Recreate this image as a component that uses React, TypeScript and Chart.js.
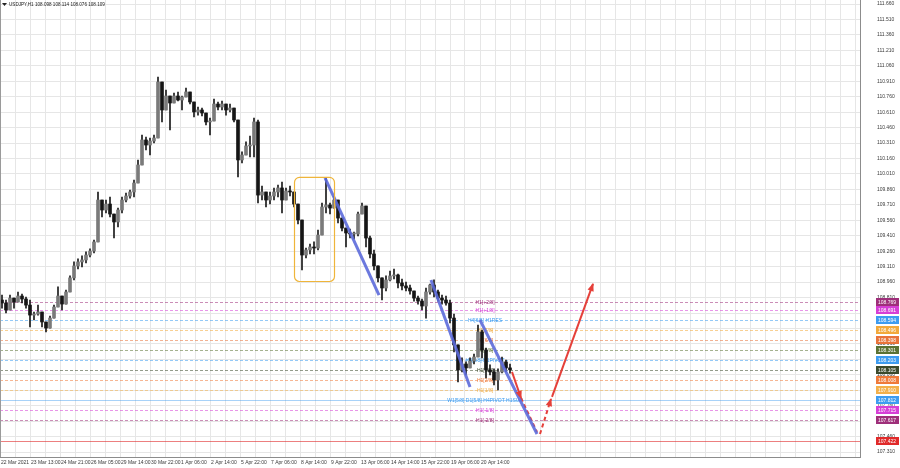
import React, { useEffect, useRef } from "react";
import { Chart, registerables } from "chart.js";

Chart.register(...registerables);

// ---------------- data ----------------
const TITLE_SYMBOL = "USDJPY,H1";
const TITLE_OHLC = ["108.098", "108.114", "108.076", "108.109"];

const BARS_PER_CANDLE = 4; // x unit = one hourly bar
const FIRST_OPEN = 108.786;

const highs = [
  108.834, 108.786, 108.834, 108.805, 108.864, 108.844, 108.815, 108.786, 108.670, 108.737,
  108.631, 108.573, 108.631, 108.737, 108.913, 108.805, 108.883, 109.020, 109.156, 109.185,
  109.214, 109.253, 109.282, 109.369, 109.835, 109.718, 109.757, 109.786, 109.592, 109.679,
  109.786, 109.825, 109.854, 109.951, 110.146, 110.388, 110.369, 110.359, 110.388, 110.951,
  110.854, 110.825, 110.728, 110.796, 110.806, 110.767, 110.844, 110.786, 110.679, 110.660,
  110.650, 110.592, 110.553, 110.738, 110.709, 110.718, 110.689, 110.689, 110.612, 110.408,
  110.224, 110.321, 110.379, 110.553, 110.534, 109.893, 109.835, 109.835, 109.874, 109.903,
  109.932, 109.874, 109.893, 109.835, 109.718, 109.544, 109.291, 109.330, 109.350, 109.466,
  109.728, 109.971, 109.728, 109.796, 109.757, 109.582, 109.485, 109.476, 109.446, 109.640,
  109.728, 109.699, 109.408, 109.272, 109.117, 108.971, 109.020, 109.068, 109.087, 109.039,
  108.990, 108.961, 108.932, 108.874, 108.825, 108.796, 108.903, 108.942, 108.981, 108.883,
  108.834, 108.825, 108.786, 108.650, 108.350, 108.224, 108.185, 108.224, 108.262, 108.543,
  108.495, 108.320, 108.156, 108.117, 108.117, 108.233, 108.204, 108.165,
];

const lows = [
  108.708, 108.660, 108.737, 108.708, 108.776, 108.757, 108.708, 108.524, 108.592, 108.640,
  108.524, 108.476, 108.514, 108.650, 108.776, 108.689, 108.776, 108.883, 108.981, 109.087,
  109.107, 109.146, 109.204, 109.243, 109.369, 109.592, 109.631, 109.592, 109.388, 109.495,
  109.631, 109.738, 109.776, 109.786, 109.932, 110.146, 110.243, 110.194, 110.311, 110.631,
  110.515, 110.631, 110.437, 110.699, 110.718, 110.631, 110.757, 110.689, 110.563, 110.582,
  110.573, 110.485, 110.388, 110.650, 110.631, 110.631, 110.582, 110.612, 110.515, 109.981,
  110.117, 110.194, 110.175, 110.175, 109.728, 109.757, 109.689, 109.718, 109.757, 109.786,
  109.631, 109.776, 109.796, 109.689, 109.524, 109.078, 109.194, 109.233, 109.233, 109.272,
  109.514, 109.631, 109.621, 109.689, 109.534, 109.456, 109.301, 109.388, 109.379, 109.408,
  109.621, 109.301, 109.194, 109.078, 108.961, 108.786, 108.874, 108.971, 108.990, 108.903,
  108.883, 108.874, 108.844, 108.776, 108.747, 108.689, 108.611, 108.844, 108.815, 108.776,
  108.747, 108.737, 108.563, 108.282, 107.990, 108.088, 108.058, 108.127, 108.165, 108.350,
  108.224, 108.029, 108.058, 107.961, 107.913, 108.078, 108.088, 108.076,
];

const closes = [
  108.757, 108.689, 108.805, 108.767, 108.825, 108.796, 108.737, 108.640, 108.650, 108.670,
  108.573, 108.514, 108.611, 108.718, 108.825, 108.747, 108.864, 109.001, 109.117, 109.156,
  109.175, 109.223, 109.262, 109.350, 109.757, 109.660, 109.718, 109.621, 109.544, 109.660,
  109.757, 109.796, 109.835, 109.922, 110.097, 110.340, 110.291, 110.330, 110.359, 110.903,
  110.631, 110.767, 110.699, 110.767, 110.728, 110.757, 110.806, 110.709, 110.612, 110.631,
  110.602, 110.515, 110.524, 110.689, 110.660, 110.689, 110.631, 110.650, 110.534, 110.146,
  110.194, 110.282, 110.291, 110.515, 109.805, 109.835, 109.757, 109.796, 109.835, 109.874,
  109.757, 109.845, 109.835, 109.718, 109.563, 109.223, 109.272, 109.301, 109.291, 109.417,
  109.689, 109.709, 109.679, 109.757, 109.582, 109.485, 109.437, 109.427, 109.427, 109.621,
  109.699, 109.388, 109.233, 109.117, 109.001, 108.903, 108.981, 109.020, 109.029, 108.952,
  108.923, 108.903, 108.874, 108.805, 108.776, 108.728, 108.864, 108.932, 108.864, 108.805,
  108.786, 108.757, 108.611, 108.350, 108.107, 108.165, 108.127, 108.194, 108.233, 108.476,
  108.301, 108.107, 108.088, 108.010, 108.088, 108.185, 108.127, 108.109,
];

const timeLabels = [
  "22 Mar 2021", "23 Mar 13:00", "24 Mar 21:00", "26 Mar 05:00", "29 Mar 14:00",
  "30 Mar 22:00", "1 Apr 06:00", "2 Apr 14:00", "5 Apr 22:00", "7 Apr 06:00",
  "8 Apr 14:00", "9 Apr 22:00", "13 Apr 06:00", "14 Apr 14:00", "15 Apr 22:00",
  "19 Apr 06:00", "20 Apr 14:00",
];
const TIME_LABEL_STEP = 30;
const GRID_STEP = 15;
const X_MAX = 860;

const Y_MIN = 107.262;
const Y_MAX = 111.699;
const priceTicks = [
  111.66, 111.51, 111.36, 111.21, 111.06, 110.91, 110.76, 110.61, 110.46, 110.31,
  110.16, 110.01, 109.86, 109.71, 109.56, 109.41, 109.26, 109.11, 108.96, 108.81,
  108.66, 108.51, 108.36, 108.21, 108.06, 107.91, 107.76, 107.61, 107.46, 107.31,
];

const levelPrices = [
  108.769, 108.691, 108.594, 108.496, 108.398, 108.301, 108.203, 108.105, 108.008,
  107.910, 107.812, 107.715, 107.617,
];
const levelNames = [
  "H1[+2/8]", "H1[+1/8]", "H4[6/8] H1RES", "H1[7/8]", "H1[6/8]", "H1[5/8]",
  "H4[5/8] H1PIVOT", "H1[3/8]", "H1[2/8]", "H1[1/8]", "W1[5/8] D1[5/8] H4PIVOT H1SUP",
  "H1[-1/8]", "H1[-2/8]",
];
const levelColors = [
  "#9e2f7a", "#d63fd6", "#3d9cf0", "#f2a93b", "#e8733a", "#5b7233", "#3d9cf0",
  "#3b4a2c", "#ef7a3a", "#f3b04a", "#3d9cf0", "#d63fd6", "#9e2f7a",
];
const levelSolid = [false, false, false, false, false, false, false, false, false, false, true, false, false];
const LEVEL_TEXT_X = 485;

const TARGET_PRICE = 107.422;
const TARGET_COLOR = "#e02a2a";

const trendLine1 = [{ x: 325, y: 109.971 }, { x: 379, y: 108.834 }];
const trendLine2 = [{ x: 431, y: 108.981 }, { x: 470, y: 107.942 }];
const trendLine3 = [{ x: 480, y: 108.592 }, { x: 537, y: 107.485 }];

const arrowDownSolid = [{ x: 512, y: 108.088 }, { x: 521, y: 107.835 }];
const arrowDownDashed = [{ x: 521, y: 107.835 }, { x: 537, y: 107.505 }];
const arrowUpDashed = [{ x: 540, y: 107.485 }, { x: 551, y: 107.825 }];
const arrowUpSolid = [{ x: 552, y: 107.845 }, { x: 593, y: 108.942 }];

const boxX = [294, 334];
const boxPrice = [109.981, 108.971];

// ---------------- helpers ----------------
const FONT = '5px "Liberation Sans", Arial, sans-serif';
const TITLE_FONT = '4.6px "Liberation Sans", Arial, sans-serif';

function drawArrowHead(ctx: CanvasRenderingContext2D, x0: number, y0: number, x1: number, y1: number, color: string) {
  const ang = Math.atan2(y1 - y0, x1 - x0);
  const len = 7;
  const half = 3.2;
  ctx.save();
  ctx.fillStyle = color;
  ctx.translate(x1, y1);
  ctx.rotate(ang);
  ctx.beginPath();
  ctx.moveTo(1, 0);
  ctx.lineTo(-len, -half);
  ctx.lineTo(-len, half);
  ctx.closePath();
  ctx.fill();
  ctx.restore();
}

const overlayPlugin = {
  id: "mt4overlay",
  beforeDraw(chart: any) {
    const { ctx, width, height } = chart;
    ctx.save();
    ctx.fillStyle = "#ffffff";
    ctx.fillRect(0, 0, width, height);
    ctx.restore();
  },
  beforeDatasetsDraw(chart: any) {
    const { ctx, chartArea: a, scales } = chart;
    const x = scales.x;
    const y = scales.y;
    ctx.save();
    ctx.beginPath();
    ctx.rect(a.left, a.top, a.right - a.left, a.bottom - a.top);
    ctx.clip();
    ctx.lineWidth = 1;
    levelPrices.forEach((p, i) => {
      const py = Math.round(y.getPixelForValue(p)) + 0.5;
      ctx.strokeStyle = levelColors[i];
      ctx.globalAlpha = levelSolid[i] ? 0.45 : 0.55;
      ctx.setLineDash(levelSolid[i] ? [] : [3, 2]);
      ctx.beginPath();
      ctx.moveTo(a.left, py);
      ctx.lineTo(a.right, py);
      ctx.stroke();
    });
    ctx.setLineDash([]);
    ctx.globalAlpha = 0.6;
    ctx.strokeStyle = TARGET_COLOR;
    const ty = Math.round(y.getPixelForValue(TARGET_PRICE)) + 0.5;
    ctx.beginPath();
    ctx.moveTo(a.left, ty);
    ctx.lineTo(a.right, ty);
    ctx.stroke();
    ctx.globalAlpha = 1;
    ctx.font = FONT;
    ctx.textAlign = "center";
    ctx.textBaseline = "middle";
    const tx = x.getPixelForValue(LEVEL_TEXT_X);
    levelNames.forEach((n, i) => {
      ctx.fillStyle = levelColors[i];
      ctx.fillText(n, tx, y.getPixelForValue(levelPrices[i]) + 0.5);
    });
    ctx.restore();
  },
  afterDatasetsDraw(chart: any) {
    const { ctx, scales } = chart;
    const x = scales.x;
    const y = scales.y;
    const bx0 = x.getPixelForValue(boxX[0]);
    const bx1 = x.getPixelForValue(boxX[1]);
    const by0 = y.getPixelForValue(boxPrice[0]);
    const by1 = y.getPixelForValue(boxPrice[1]);
    ctx.save();
    ctx.strokeStyle = "#efb53a";
    ctx.lineWidth = 1.2;
    ctx.beginPath();
    (ctx as any).roundRect(bx0 + 0.5, by0 + 0.5, bx1 - bx0, by1 - by0, 5);
    ctx.stroke();
    const px = (p: { x: number; y: number }) => [x.getPixelForValue(p.x), y.getPixelForValue(p.y)];
    const heads = [arrowDownSolid, arrowUpDashed, arrowUpSolid];
    heads.forEach((seg) => {
      const [x0, y0] = px(seg[0]);
      const [x1, y1] = px(seg[1]);
      drawArrowHead(ctx, x0, y0, x1, y1, "#e5403a");
    });
    ctx.restore();
  },
  afterDraw(chart: any) {
    const { ctx, chartArea: a, scales } = chart;
    const x = scales.x;
    const y = scales.y;
    ctx.save();
    ctx.strokeStyle = "#9a9a9a";
    ctx.lineWidth = 1;
    ctx.beginPath();
    ctx.moveTo(a.left + 0.5, a.top);
    ctx.lineTo(a.left + 0.5, a.bottom);
    ctx.stroke();
    ctx.font = FONT;
    ctx.textBaseline = "middle";
    ctx.textAlign = "left";
    ctx.fillStyle = "#3a3a3a";
    priceTicks.forEach((v) => {
      ctx.fillText(v.toFixed(3), a.right + 17, y.getPixelForValue(v));
    });
    const tags = levelPrices.map((p, i) => ({ p, c: levelColors[i] }));
    tags.push({ p: TARGET_PRICE, c: TARGET_COLOR });
    tags.forEach((t) => {
      const py = Math.round(y.getPixelForValue(t.p));
      ctx.fillStyle = t.c;
      ctx.fillRect(a.right + 16, py - 4, 23, 8);
      ctx.fillStyle = "#ffffff";
      ctx.fillText(t.p.toFixed(3), a.right + 18, py + 0.5);
    });
    ctx.fillStyle = "#3a3a3a";
    timeLabels.forEach((l, i) => {
      ctx.fillText(l, x.getPixelForValue(i * TIME_LABEL_STEP) + 1, a.bottom + 6);
    });
    ctx.fillStyle = "#222";
    ctx.beginPath();
    ctx.moveTo(2, 3);
    ctx.lineTo(7, 3);
    ctx.lineTo(4.5, 6);
    ctx.closePath();
    ctx.fill();
    ctx.font = TITLE_FONT;
    ctx.fillText(TITLE_SYMBOL + " " + TITLE_OHLC.join(" "), 9, 5);
    ctx.restore();
  },
};

export default function App() {
  const ref = useRef<HTMLCanvasElement | null>(null);

  useEffect(() => {
    document.body.style.margin = "0";
    const canvas = ref.current;
    if (!canvas) return;

    const candleX = closes.map((_, i) => i * BARS_PER_CANDLE + BARS_PER_CANDLE / 2);
    const opens = closes.map((_, i) => (i === 0 ? FIRST_OPEN : closes[i - 1]));
    const wickData = closes.map((c, i) => ({
      x: candleX[i],
      y: [Math.min(lows[i], opens[i], c), Math.max(highs[i], opens[i], c)],
    }));
    const bodyData = closes.map((c, i) => ({ x: candleX[i], y: [opens[i], c] }));
    const bodyColors = closes.map((c, i) => (c >= opens[i] ? "#7a7a7a" : "#151515"));

    const lineDs = (data: any[], color: string, width: number, dash: number[] = []) => ({
      type: "line" as const,
      data,
      borderColor: color,
      borderWidth: width,
      borderDash: dash,
      pointRadius: 0,
      fill: false,
      order: 0,
      tension: 0,
    });

    const gridValues: number[] = [];
    for (let v = 0; v <= X_MAX; v += GRID_STEP) gridValues.push(v);

    const chart = new Chart(canvas, {
      type: "bar",
      data: {
        datasets: [
          {
            type: "bar",
            data: wickData as any,
            backgroundColor: "#1a1a1a",
            barThickness: 1,
            grouped: false,
            order: 3,
          } as any,
          {
            type: "bar",
            data: bodyData as any,
            backgroundColor: bodyColors,
            borderWidth: 0,
            barThickness: 3,
            minBarLength: 1,
            grouped: false,
            order: 2,
          } as any,
          lineDs(trendLine1, "rgba(92,106,218,0.9)", 3),
          lineDs(trendLine2, "rgba(92,106,218,0.9)", 3),
          lineDs(trendLine3, "rgba(92,106,218,0.9)", 3),
          lineDs(arrowDownSolid, "#e5403a", 2),
          lineDs(arrowDownDashed, "#e5403a", 2, [4, 3]),
          lineDs(arrowUpDashed, "#e5403a", 2, [4, 3]),
          lineDs(arrowUpSolid, "#e5403a", 2),
        ],
      },
      options: {
        responsive: false,
        animation: false,
        events: [],
        layout: { padding: 0 },
        plugins: { legend: { display: false }, tooltip: { enabled: false } },
        scales: {
          x: {
            type: "linear",
            min: 0,
            max: X_MAX,
            offset: false,
            ticks: { display: false },
            grid: { color: "#e6e6e6", drawTicks: false, offset: false } as any,
            border: { display: true, color: "#8c8c8c" },
            afterBuildTicks: (scale: any) => {
              scale.ticks = gridValues.map((v) => ({ value: v }));
            },
            afterFit: (scale: any) => {
              scale.height = 11;
            },
          },
          y: {
            type: "linear",
            position: "right",
            min: Y_MIN,
            max: Y_MAX,
            beginAtZero: false,
            ticks: { display: false },
            grid: { color: "#e6e6e6", drawTicks: false },
            border: { display: true, color: "#8c8c8c" },
            afterBuildTicks: (scale: any) => {
              scale.ticks = priceTicks.map((v) => ({ value: v }));
            },
            afterFit: (scale: any) => {
              scale.width = 40;
            },
          },
        },
      } as any,
      plugins: [overlayPlugin],
    });

    return () => chart.destroy();
  }, []);

  return (
    <div style={{ width: 900, height: 468, position: "relative", background: "#fff" }}>
      <canvas ref={ref} width={900} height={468} style={{ display: "block" }} />
    </div>
  );
}
